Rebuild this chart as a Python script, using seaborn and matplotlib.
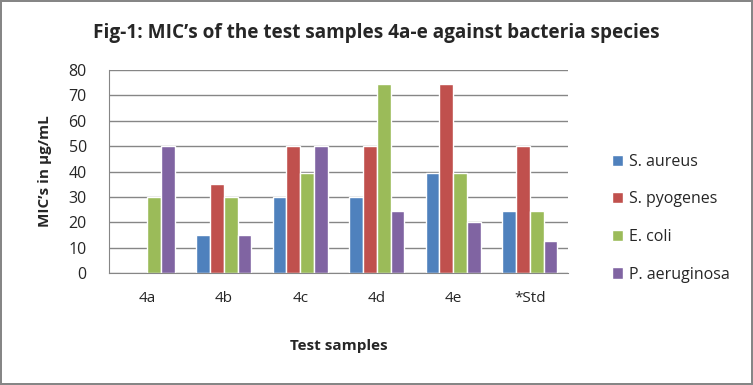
import pandas as pd
import numpy as np
from matplotlib import pyplot as plt
import seaborn as sb

# data
samples = ["4a", "4b", "4c", "4d", "4e", "*Std"]
species = ["S. aureus", "S. pyogenes", "E. coli", "P. aeruginosa"]
s_aureus = [0, 15, 30, 30, 39.5, 24.5]
s_pyogenes = [0, 35, 50, 50, 74.5, 50]
e_coli = [30, 30, 39.5, 74.5, 39.5, 24.5]
p_aeruginosa = [50, 15, 50, 24.5, 20, 12.5]
yticks = [0, 10, 20, 30, 40, 50, 60, 70, 80]

colors = ["#4F81BD", "#C0504D", "#9BBB59", "#8064A2"]

rows = []
for sp, vals in zip(species, [s_aureus, s_pyogenes, e_coli, p_aeruginosa]):
    for s, v in zip(samples, vals):
        rows.append({"sample": s, "species": sp, "mic": v})
df = pd.DataFrame(rows)

sb.set_style("white")
plt.rcParams["font.family"] = ["Open Sans", "DejaVu Sans"]

fig = plt.figure(figsize=(7.53, 3.85), dpi=100)
fig.patch.set_edgecolor("#868686")
fig.patch.set_linewidth(1.5)
ax = fig.add_axes([109 / 753, 1 - 273 / 385, (568 - 109) / 753, (273 - 70) / 385])

sb.barplot(data=df, x="sample", y="mic", hue="species", palette=colors,
           width=0.72, saturation=1, ax=ax, legend=True)

ax.set_ylim(0, 80)
ax.set_xlim(-0.5, 5.5)
ax.set_yticks(yticks)
ax.yaxis.grid(True, color="#868686", lw=1)
ax.set_axisbelow(True)
for sp in ["top", "right"]:
    ax.spines[sp].set_visible(False)
for sp in ["left", "bottom"]:
    ax.spines[sp].set_color("#868686")
ax.tick_params(axis="y", length=7, color="#868686", labelsize=11.5, pad=9)
ax.tick_params(axis="x", which="major", length=0, labelsize=11, pad=13)
ax.set_xticks(np.arange(-0.5, 6, 1), minor=True)
ax.tick_params(axis="x", which="minor", length=6, color="#868686")

ax.set_xlabel("Test samples", fontsize=11, fontweight="bold", labelpad=24)
ax.set_ylabel("MIC\u2019s in \u00b5g/mL", fontsize=11, fontweight="bold", labelpad=12)
fig.text(0.5, 1 - 33 / 385, "Fig-1: MIC\u2019s of the test samples 4a-e against bacteria species",
         ha="center", va="center", fontsize=13.7, fontweight="bold")

ax.legend(loc="center left", bbox_to_anchor=(1.065, 0.27), frameon=False,
          fontsize=11.5, handlelength=0.7, handleheight=0.7, handletextpad=0.35,
          labelspacing=1.35)

fig.savefig("out.png", dpi=100, edgecolor=fig.get_edgecolor())
